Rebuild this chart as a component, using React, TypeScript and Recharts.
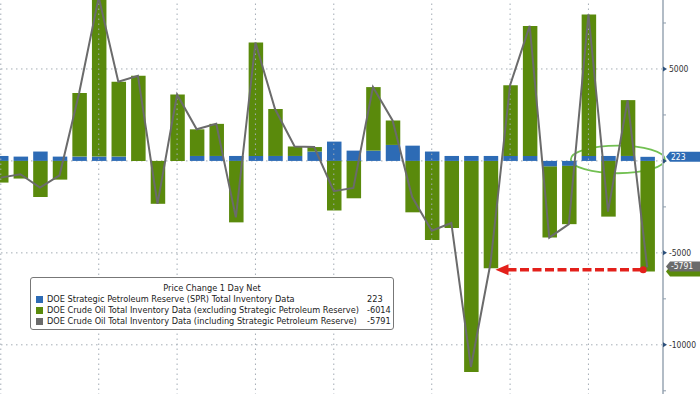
import { ComposedChart, Bar, Line, XAxis, YAxis, CartesianGrid, ReferenceLine, ReferenceArea } from "recharts"

// weekly EIA inventory change, thousand barrels
const weeks = [
  "2024-12-27", "2025-01-03", "2025-01-10", "2025-01-17", "2025-01-24", "2025-01-31",
  "2025-02-07", "2025-02-14", "2025-02-21", "2025-02-28", "2025-03-07", "2025-03-14",
  "2025-03-21", "2025-03-28", "2025-04-04", "2025-04-11", "2025-04-18", "2025-04-25",
  "2025-05-02", "2025-05-09", "2025-05-16", "2025-05-23", "2025-05-30", "2025-06-06",
  "2025-06-13", "2025-06-20", "2025-06-27", "2025-07-04", "2025-07-11", "2025-07-18",
  "2025-07-25", "2025-08-01", "2025-08-08", "2025-08-15",
]
const spr = [
  270, 235, 510, 235, 235, 235, 235, 0, 0, 0, 270, 270,
  270, 270, 270, 270, 510, 1050, 560, 560, 870, 830, 510, 270,
  270, 270, 270, 270, -310, -270, 270, 270, 270, 223,
]
const crudeExSpr = [
  -1178, -959, -1962, -1017, 3463, 8664, 4070, 4633, -2332, 3614, 1448, 1745,
  -3341, 6165, 2553, 515, 244, -2696, -2032, 3454, 1328, -2795, -4304, -3644,
  -11473, -5836, 3845, 7070, -3859, -3169, 7698, -3029, 3036, -6014,
]
const crudeInclSpr = [
  -908, -724, -1452, -782, 3698, 8899, 4305, 4633, -2332, 3614, 1718, 2015,
  -3071, 6435, 2823, 785, 754, -1646, -1472, 4014, 2198, -1965, -3794, -3374,
  -11203, -5566, 4115, 7340, -4169, -3439, 7968, -2759, 3306, -5791,
]
const monthEnds = ["2024-12-27", "2025-01-31", "2025-02-28", "2025-03-28", "2025-04-25", "2025-05-30", "2025-06-27", "2025-07-25"]
const yTicks = [-12500, -10000, -7500, -5000, -2500, 0, 2500, 5000, 7500]
const gridValues = [-10000, -5000, 0, 5000]

const BLUE = "#2d6bb5"
const GREEN = "#5a8a0c"
const GRAY = "#6b6b6b"
const FONT = "'DejaVu Sans Condensed','DejaVu Sans',sans-serif"
const LEGEND_FONT = "'DejaVu Sans',sans-serif"
const GRID = "#a3acb5"

const series = [
  { key: "spr", name: "DOE Strategic Petroleum Reserve (SPR) Total Inventory Data", color: BLUE, values: spr },
  { key: "exSpr", name: "DOE Crude Oil Total Inventory Data (excluding Strategic Petroleum Reserve)", color: GREEN, values: crudeExSpr },
  { key: "inclSpr", name: "DOE Crude Oil Total Inventory Data (including Strategic Petroleum Reserve)", color: GRAY, values: crudeInclSpr },
]

const data = weeks.map((w, i) => ({ week: w, spr: spr[i], exSpr: crudeExSpr[i], inclSpr: crudeInclSpr[i] }))
const last = weeks.length - 1

const RightTick = ({ x, y, payload }: any) => {
  const v = payload.value
  if (v % 5000 !== 0) return <line x1={x} x2={x + 3} y1={y} y2={y} stroke="#8d9cab" strokeWidth={1} />
  return (
    <g>
      <path d={`M${x},${y - 2.5} L${x + 4},${y} L${x},${y + 2.5} Z`} fill="#2b4f7a" />
      {v !== 0 && (
        <text x={x + 6} y={y} dy={3} fontSize={8.5} fill="#333" fontFamily={FONT}>{v}</text>
      )}
    </g>
  )
}

// last-value tag sitting on the right axis
const tag = (color: string, text: string, shift = 0) => ({ viewBox }: any) => {
  const x0 = viewBox.x + viewBox.width + 3
  const cy = viewBox.y + shift
  return (
    <g>
      <path d={`M${x0},${cy} L${x0 + 4},${cy - 5} L${x0 + 50},${cy - 5} L${x0 + 50},${cy + 5} L${x0 + 4},${cy + 5} Z`} fill={color} />
      {text && <text x={x0 + 5} y={cy} dy={3} fontSize={8.5} fill="#fff" fontFamily={FONT}>{text}</text>}
    </g>
  )
}

const ArrowShape = ({ x1, y1, x2 }: any) => {
  const tip = x1 + 5
  const end = x2 - 4
  return (
    <g>
      <line x1={tip + 12} x2={end} y1={y1} y2={y1} stroke="#e3201b" strokeWidth={3.5} strokeDasharray="9 3.5" />
      <path d={`M${tip},${y1} L${tip + 13},${y1 - 5.5} L${tip + 13},${y1 + 5.5} Z`} fill="#e3201b" />
      <circle cx={end} cy={y1} r={3.5} fill="#e3201b" />
    </g>
  )
}

const EllipseShape = ({ x, y, width, height }: any) => (
  <ellipse cx={x + width / 2} cy={y + height / 2} rx={(width / 2) * 1.2} ry={height / 2} fill="none" stroke="#72c052" strokeWidth={1.8} />
)

export default function App() {
  return (
    <div style={{ position: "absolute", left: 0, top: 0, width: 700, height: 394, overflow: "hidden", background: "#fff" }}>
      <div style={{ position: "absolute", left: -9, top: 0 }}>
        <ComposedChart width={709} height={400} data={data} stackOffset="sign" margin={{ top: 0, right: 0, bottom: 0, left: 0 }}>
          <CartesianGrid horizontalValues={gridValues} vertical={false} stroke={GRID} strokeDasharray="1.5 3.5" />
          <XAxis dataKey="week" interval={0} tick={false} tickLine={false} axisLine={false} height={0} padding={{ left: 0, right: 6 }} />
          <YAxis orientation="right" domain={[-13000, 8750]} ticks={yTicks} interval={0} allowDataOverflow width={37}
            tickSize={0} tickMargin={0} tick={<RightTick />} axisLine={{ stroke: "#b2bcc6", strokeWidth: 2 }} tickLine={false} />
          {monthEnds.map(m => (
            <ReferenceLine key={m} x={m} stroke={GRID} strokeDasharray="1.5 3.5" ifOverflow="visible" />
          ))}
          <Bar dataKey="spr" stackId="a" fill={BLUE} barSize={14.5} isAnimationActive={false} />
          <Bar dataKey="exSpr" stackId="a" fill={GREEN} barSize={14.5} isAnimationActive={false} />
          <Line dataKey="inclSpr" type="linear" stroke={GRAY} strokeWidth={2} dot={false} activeDot={false} isAnimationActive={false} />
          <ReferenceArea x1={weeks[30]} x2={weeks[33]} y1={-670} y2={830} ifOverflow="visible" shape={<EllipseShape />} />
          <ReferenceLine segment={[{ x: weeks[25], y: -5924 }, { x: weeks[last], y: -5924 }]} ifOverflow="visible" shape={<ArrowShape />} />
          <ReferenceLine y={crudeExSpr[last]} stroke="none" ifOverflow="visible" label={{ content: tag(GREEN, "") }} />
          <ReferenceLine y={crudeInclSpr[last]} stroke="none" ifOverflow="visible" label={{ content: tag(GRAY, String(crudeInclSpr[last]), -1) }} />
          <ReferenceLine y={spr[last]} stroke="none" ifOverflow="visible" label={{ content: tag(BLUE, String(spr[last])) }} />
        </ComposedChart>
      </div>

      <div style={{ position: "absolute", left: 30, top: 277, width: 362, height: 51, border: "1px solid #777", borderRadius: 3, background: "#fff", fontFamily: LEGEND_FONT, fontSize: 8.2, color: "#222" }}>
        <div style={{ position: "absolute", left: 0, right: 0, top: 5, textAlign: "center", lineHeight: "11px" }}>Price Change 1 Day Net</div>
        {series.map((s, i) => (
          <div key={s.key} style={{ position: "absolute", left: 0, top: 16 + i * 11, height: 11, width: "100%", lineHeight: "11px" }}>
            <div style={{ position: "absolute", left: 5, top: 2, width: 7, height: 7, background: s.color }} />
            <span style={{ position: "absolute", left: 16, whiteSpace: "nowrap" }}>{s.name}</span>
            <span style={{ position: "absolute", left: 336 }}>{s.values[last]}</span>
          </div>
        ))}
      </div>
    </div>
  )
}
